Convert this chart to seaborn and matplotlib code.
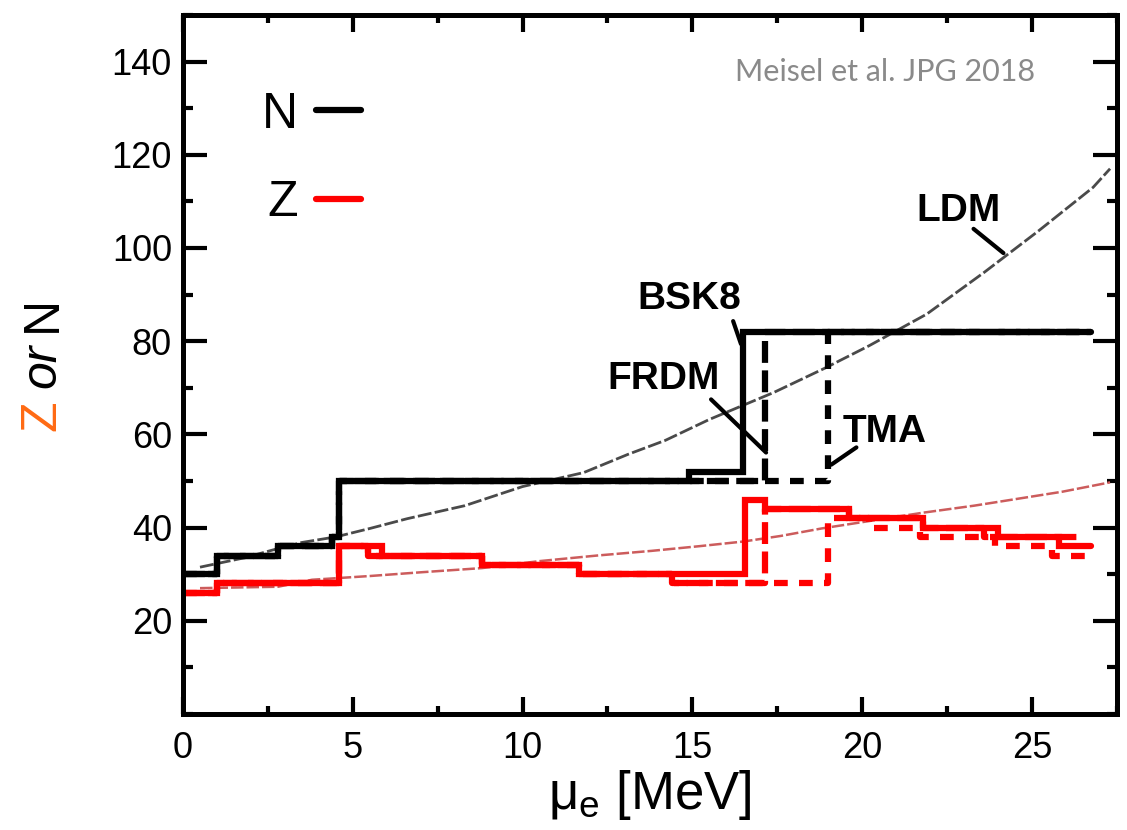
import seaborn as sns
import matplotlib.pyplot as plt
from matplotlib.ticker import MultipleLocator
from matplotlib.lines import Line2D

# step curves: edges in mu_e (MeV) and plateau values between edges
n_bsk8_edges = [0, 1.0, 2.8, 4.4, 4.6, 14.9, 16.5, 26.75]
n_bsk8 = [30, 34, 36, 38, 50, 52, 82]
n_frdm_edges = [0, 1.0, 2.8, 4.4, 4.6, 17.15, 26.75]
n_frdm = [30, 34, 36, 38, 50, 82]
n_tma_edges = [0, 1.0, 2.8, 4.4, 4.6, 19.0, 26.75]
n_tma = [30, 34, 36, 38, 50, 82]

z_bsk8_edges = [0, 1.0, 4.6, 5.85, 8.8, 11.65, 16.55, 17.15, 19.6, 21.8, 24.0, 25.8, 26.75]
z_bsk8 = [26, 28, 36, 34, 32, 30, 46, 44, 42, 40, 38, 36]
z_frdm_edges = [0, 1.0, 4.6, 5.45, 8.8, 11.65, 14.4, 17.15, 19.6, 21.8, 23.6, 26.4]
z_frdm = [26, 28, 36, 34, 32, 30, 28, 44, 42, 40, 38]
z_tma_edges = [0, 1.0, 4.6, 5.45, 8.8, 11.65, 14.4, 19.0, 20.2, 21.7, 23.9, 25.6, 26.6]
z_tma = [26, 28, 36, 34, 32, 30, 28, 42, 40, 38, 36, 34]

# liquid drop model
ldm_n_mu = [0.5, 1.8, 2.8, 3.5, 4.5, 5.5, 6.6, 8.3, 10.0, 11.8, 13.1, 14.2, 15.5,
            17.4, 18.9, 20.2, 21.9, 23.6, 25.2, 26.8, 27.3]
ldm_n = [31.5, 33.5, 35.5, 36.8, 38, 39.8, 41.9, 44.7, 48.8, 51.8, 55.7, 58.7, 63.2,
         69, 74.2, 79, 85.8, 94.8, 103.7, 113, 117]
ldm_z_mu = [0.5, 2.8, 3.8, 5.5, 7.0, 8.8, 10.5, 12.2, 13.8, 15.2, 16.5, 17.6, 18.8,
            20.3, 21.8, 23.3, 24.6, 25.9, 27.3]
ldm_z = [27.0, 27.3, 28.8, 29.6, 30.4, 31.3, 32.8, 34.0, 35.0, 36.0, 37.0, 38.2, 39.8,
         41.5, 43.2, 44.7, 46.2, 47.7, 49.7]

sns.set_theme(style='ticks')
plt.rcParams['font.family'] = ['Liberation Sans', 'DejaVu Sans']
plt.rcParams['text.color'] = 'black'
plt.rcParams['axes.labelcolor'] = 'black'

fig = plt.figure(figsize=(11.27, 8.30), dpi=100)
ax = fig.add_axes([0.1624, 0.1398, 0.8286, 0.8422])

sns.lineplot(x=ldm_n_mu, y=ldm_n, ax=ax, color='#4a4a4a', lw=2.0,
             linestyle=(0, (5, 1.2)))
sns.lineplot(x=ldm_z_mu, y=ldm_z, ax=ax, color='#cc5c5c', lw=1.8,
             linestyle=(0, (5, 1.2)))

lw = 4.5
styles = {'tma': (0, (2.2, 1.8)), 'frdm': (0, (3.5, 1.2)), 'bsk8': '-'}
curves = [
    ('tma', n_tma_edges, n_tma, 'black'),
    ('frdm', n_frdm_edges, n_frdm, 'black'),
    ('bsk8', n_bsk8_edges, n_bsk8, 'black'),
    ('tma', z_tma_edges, z_tma, 'red'),
    ('frdm', z_frdm_edges, z_frdm, 'red'),
    ('bsk8', z_bsk8_edges, z_bsk8, 'red'),
]
for name, edges, vals, col in curves:
    sns.lineplot(x=edges, y=vals + [vals[-1]], ax=ax, color=col, lw=lw,
                 drawstyle='steps-post', linestyle=styles[name],
                 dash_capstyle='butt', solid_joinstyle='miter')

ax.set_xlim(0, 27.5)
ax.set_ylim(0, 150)
ax.xaxis.set_major_locator(MultipleLocator(5))
ax.xaxis.set_minor_locator(MultipleLocator(2.5))
ax.set_yticks([20, 40, 60, 80, 100, 120, 140])
ax.yaxis.set_minor_locator(MultipleLocator(10))
ax.tick_params(which='both', direction='in', top=True, right=True, width=3,
               color='black', labelsize=26, labelcolor='black')
ax.tick_params(axis='y', which='major', length=17, pad=8)
ax.tick_params(axis='y', which='minor', length=7)
ax.tick_params(axis='x', which='major', length=12, pad=12)
ax.tick_params(axis='x', which='minor', length=6)
for sp in ax.spines.values():
    sp.set_linewidth(3.6)
    sp.set_color('black')
    sp.set_visible(True)

ax.set_xlabel('\u03bc$_\\mathregular{e}$ [MeV]', fontsize=38, labelpad=2)
ax.set_ylabel('')

# y label: coloured Z, italic "or", N
fig.text(0.038, 0.499, 'Z', rotation=90, fontsize=36, color='#ff6a13',
         ha='center', va='center')
fig.text(0.038, 0.559, 'or', rotation=90, fontsize=36, style='italic',
         color='black', ha='center', va='center')
fig.text(0.038, 0.622, 'N', rotation=90, fontsize=36, color='black',
         ha='center', va='center')

handles = [Line2D([], [], color='black', lw=lw), Line2D([], [], color='red', lw=lw)]
ax.legend(handles, ['N', 'Z'], loc='upper left', bbox_to_anchor=(0.0846, 0.89),
          frameon=False, markerfirst=False, fontsize=36, handlelength=0.9,
          handletextpad=0.35, labelspacing=0.85, borderpad=0, borderaxespad=0)

ax.text(0.912, 0.918, 'Meisel et al. JPG 2018', transform=ax.transAxes,
        ha='right', va='center', fontsize=22, color='#8a8a8a', family='Lato')

labels = [
    ('LDM', (22.83, 108), (23.28, 104.1), (24.16, 98.9)),
    ('BSK8', (14.9, 89), (16.2, 84.3), (16.43, 79.4)),
    ('FRDM', (14.16, 71.8), (15.55, 67.5), (17.17, 56.1)),
    ('TMA', (20.65, 60.4), (19.83, 57.2), (19.09, 53.5)),
]
for txt, pos, p0, p1 in labels:
    ax.text(pos[0], pos[1], txt, fontsize=28, fontweight='bold',
            ha='center', va='center')
    ax.annotate('', xy=p1, xytext=p0,
                arrowprops=dict(arrowstyle='-', lw=3, color='black',
                                shrinkA=0, shrinkB=0))

fig.savefig('out.png', dpi=100)
